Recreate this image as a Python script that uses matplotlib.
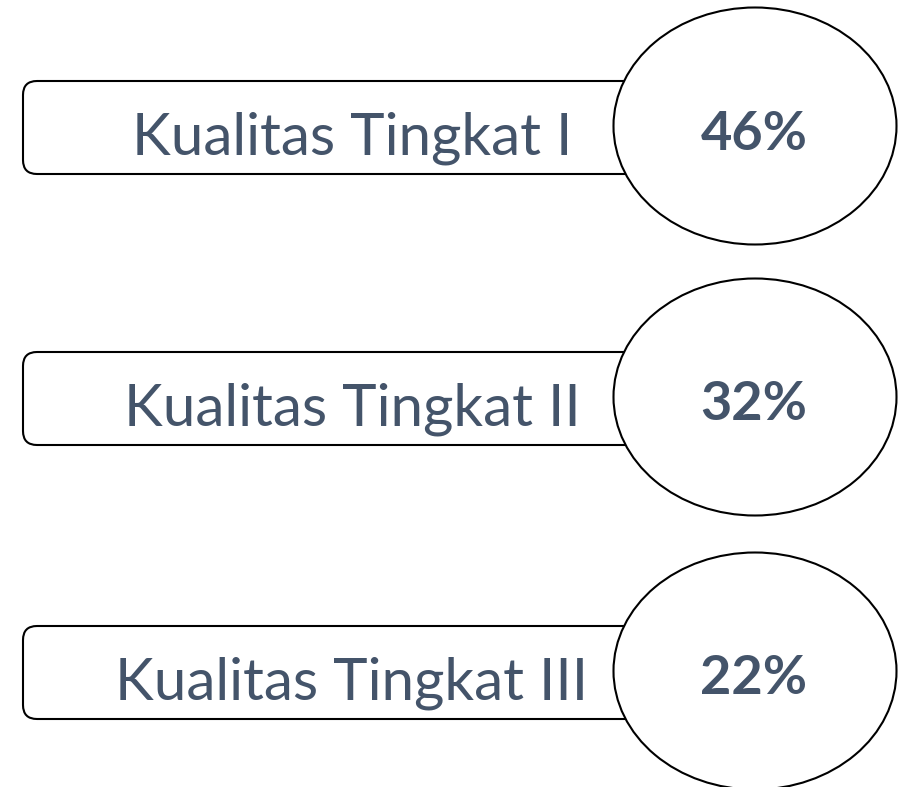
import matplotlib
matplotlib.use("Agg")
import matplotlib.pyplot as plt
from matplotlib.patches import FancyBboxPatch, Ellipse

# data
labels = ["Kualitas Tingkat I", "Kualitas Tingkat II", "Kualitas Tingkat III"]
shares = [46, 32, 22]

textColor = "#44546A"

fig = plt.figure(figsize=(9.11, 7.87), dpi=100)
ax = fig.add_axes([0, 0, 1, 1])
ax.set_xlim(0, 911)
ax.set_ylim(787, 0)
ax.axis("off")

# vertical centre of each row
rowY = [127, 398, 672]

for i, (lab, val) in enumerate(zip(labels, shares)):
    y = rowY[i]
    # rounded label box (goes under the ellipse)
    box = FancyBboxPatch((23, y - 46), 640, 93,
                         boxstyle="round,pad=0,rounding_size=14",
                         facecolor="white", edgecolor="black", linewidth=1.5, zorder=1)
    ax.add_patch(box)
    ax.text(352, y + 11, lab, fontsize=42, family="Lato", color=textColor,
            ha="center", va="center", zorder=3)

    # ellipse with the percentage
    ell = Ellipse((755, y - 1), 283, 237, facecolor="white",
                  edgecolor="black", linewidth=1.5, zorder=2)
    ax.add_patch(ell)
    ax.text(754, y + 7, "{}%".format(val), fontsize=39, family="Lato",
            fontweight="bold", color=textColor, ha="center", va="center", zorder=3)

fig.savefig("out.png", dpi=100)
